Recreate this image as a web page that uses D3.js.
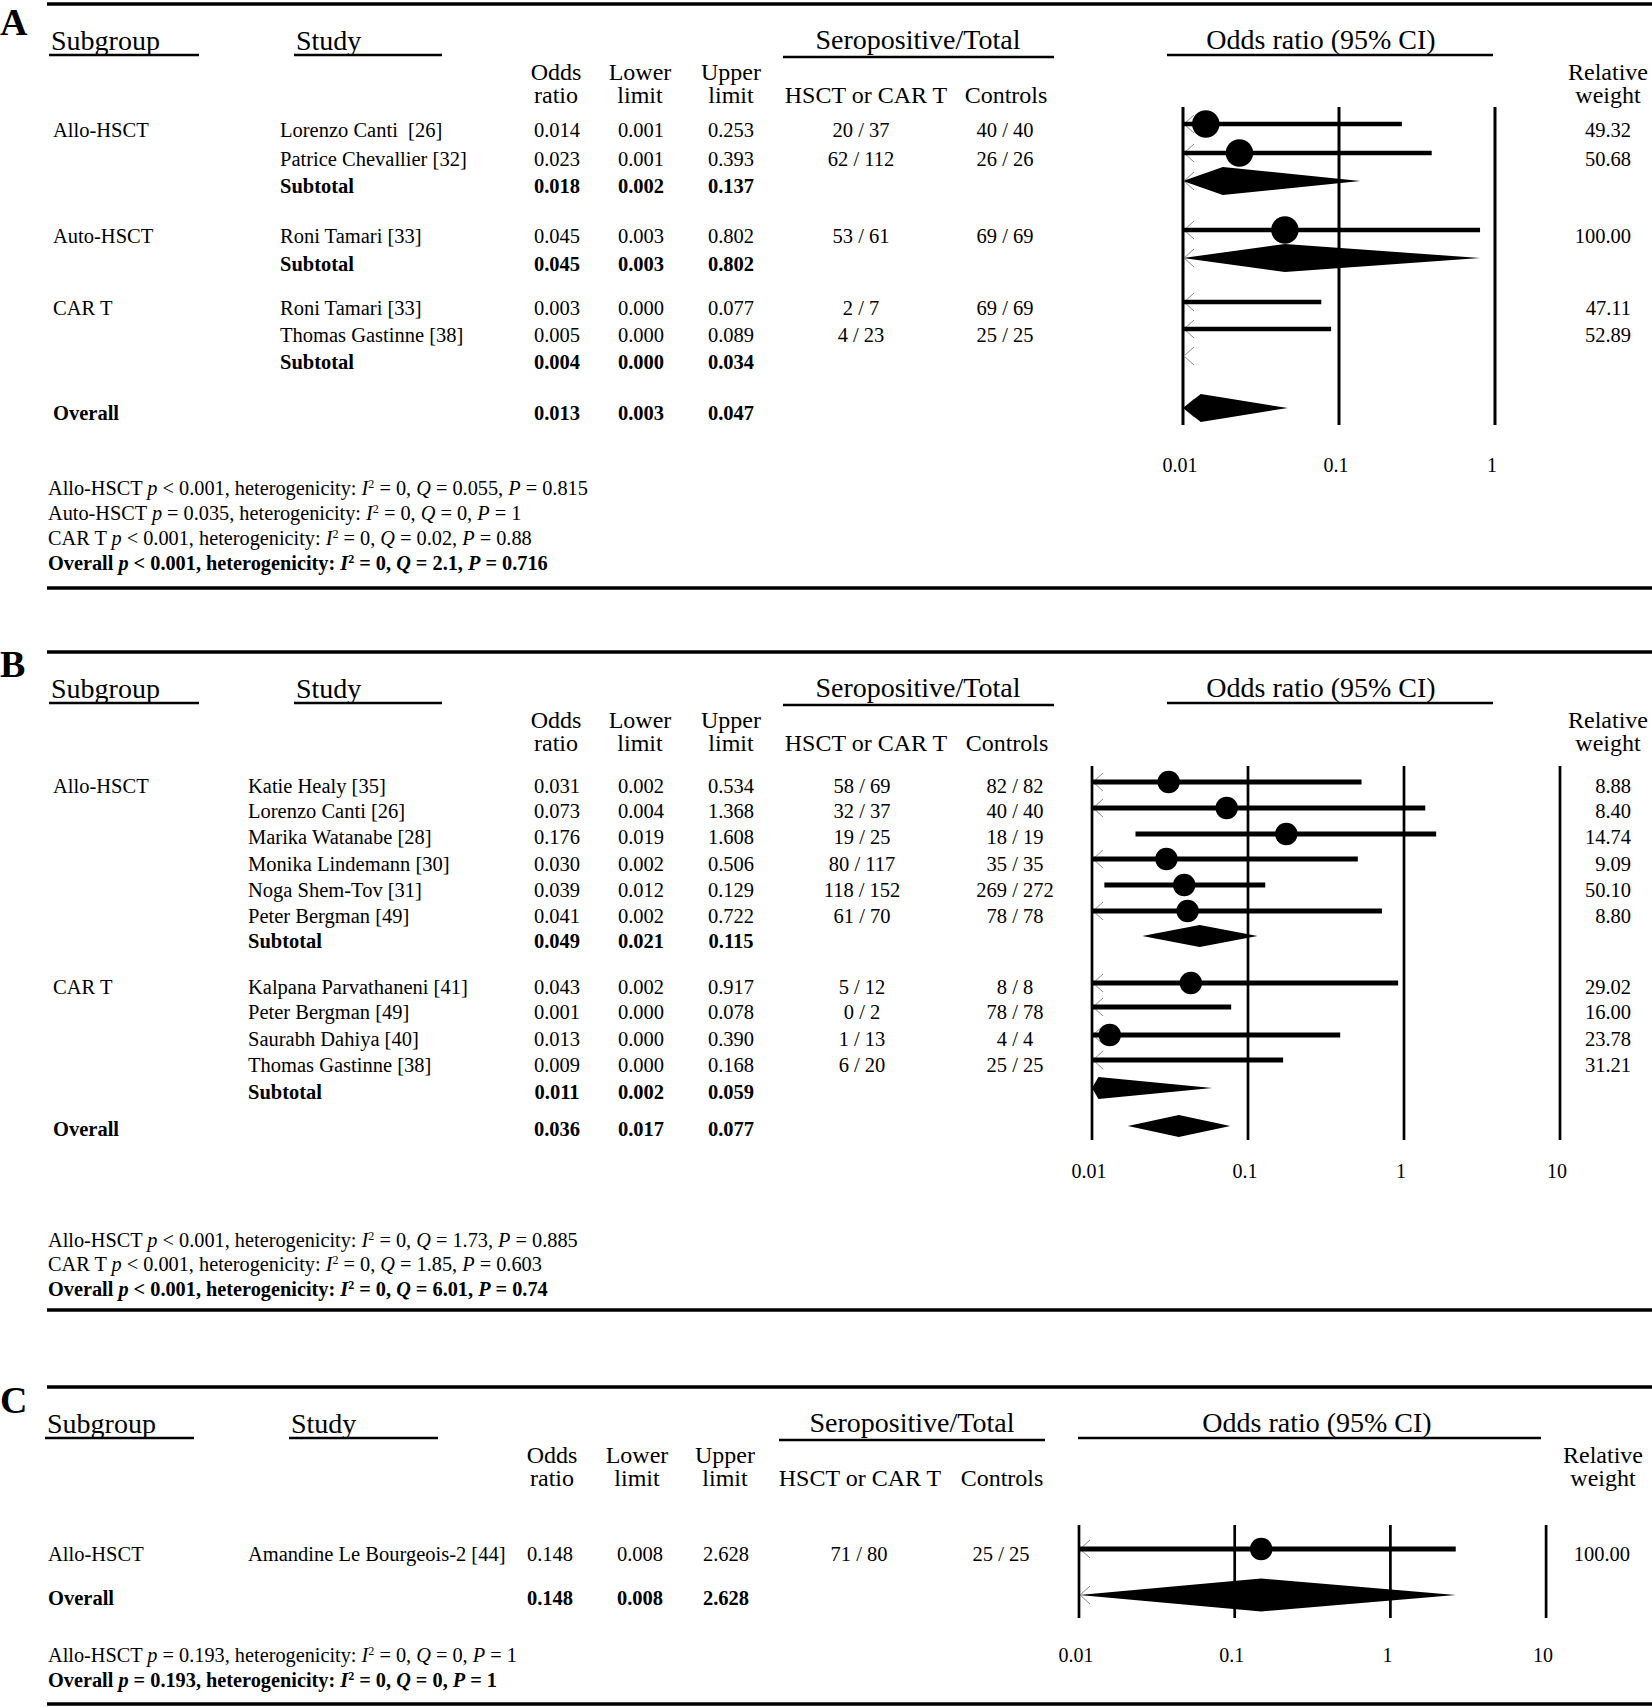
<!DOCTYPE html>
<html><head><meta charset="utf-8">
<script src="https://cdn.jsdelivr.net/npm/d3@7"></script>
<style>
body{margin:0;background:#fff}
svg{display:block}
text{font-family:"Liberation Serif","Times New Roman",serif;fill:#000;white-space:pre}
</style>
</head><body>
<svg id="chart" width="1652" height="1707"></svg>
<script>
// ---------------- DATA ----------------
// Panel A
const subgroupA = ["Allo-HSCT","","","Auto-HSCT","","CAR T","","","Overall"];
const studyA = ["Lorenzo Canti  [26]","Patrice Chevallier [32]","Subtotal","Roni Tamari [33]","Subtotal","Roni Tamari [33]","Thomas Gastinne [38]","Subtotal",""];
const typeA = ["study","study","subtotal","study","subtotal","study","study","subtotal","overall"];
const orA = [0.014,0.023,0.018,0.045,0.045,0.003,0.005,0.004,0.013];
const lowerA = [0.001,0.001,0.002,0.003,0.003,0.000,0.000,0.000,0.003];
const upperA = [0.253,0.393,0.137,0.802,0.802,0.077,0.089,0.034,0.047];
const casesA = ["20 / 37","62 / 112","","53 / 61","","2 / 7","4 / 23","",""];
const controlsA = ["40 / 40","26 / 26","","69 / 69","","69 / 69","25 / 25","",""];
const weightA = [49.32,50.68,null,100.00,null,47.11,52.89,null,null];
const ticksA = [0.01,0.1,1];
const tickLabelsA = ["0.01","0.1","1"];
const footGroupA = ["Allo-HSCT","Auto-HSCT","CAR T","Overall"];
const footPA = ["< 0.001","= 0.035","< 0.001","< 0.001"];
const footI2A = ["0","0","0","0"];
const footQA = ["0.055","0","0.02","2.1"];
const footHetPA = ["0.815","1","0.88","0.716"];

// Panel B
const subgroupB = ["Allo-HSCT","","","","","","","CAR T","","","","","Overall"];
const studyB = ["Katie Healy [35]","Lorenzo Canti [26]","Marika Watanabe [28]","Monika Lindemann [30]","Noga Shem-Tov [31]","Peter Bergman [49]","Subtotal","Kalpana Parvathaneni [41]","Peter Bergman [49]","Saurabh Dahiya [40]","Thomas Gastinne [38]","Subtotal",""];
const typeB = ["study","study","study","study","study","study","subtotal","study","study","study","study","subtotal","overall"];
const orB = [0.031,0.073,0.176,0.030,0.039,0.041,0.049,0.043,0.001,0.013,0.009,0.011,0.036];
const lowerB = [0.002,0.004,0.019,0.002,0.012,0.002,0.021,0.002,0.000,0.000,0.000,0.002,0.017];
const upperB = [0.534,1.368,1.608,0.506,0.129,0.722,0.115,0.917,0.078,0.390,0.168,0.059,0.077];
const casesB = ["58 / 69","32 / 37","19 / 25","80 / 117","118 / 152","61 / 70","","5 / 12","0 / 2","1 / 13","6 / 20","",""];
const controlsB = ["82 / 82","40 / 40","18 / 19","35 / 35","269 / 272","78 / 78","","8 / 8","78 / 78","4 / 4","25 / 25","",""];
const weightB = [8.88,8.40,14.74,9.09,50.10,8.80,null,29.02,16.00,23.78,31.21,null,null];
const ticksB = [0.01,0.1,1,10];
const tickLabelsB = ["0.01","0.1","1","10"];
const footGroupB = ["Allo-HSCT","CAR T","Overall"];
const footPB = ["< 0.001","< 0.001","< 0.001"];
const footI2B = ["0","0","0"];
const footQB = ["1.73","1.85","6.01"];
const footHetPB = ["0.885","0.603","0.74"];

// Panel C
const subgroupC = ["Allo-HSCT","Overall"];
const studyC = ["Amandine Le Bourgeois-2 [44]",""];
const typeC = ["study","overall"];
const orC = [0.148,0.148];
const lowerC = [0.008,0.008];
const upperC = [2.628,2.628];
const casesC = ["71 / 80",""];
const controlsC = ["25 / 25",""];
const weightC = [100.00,null];
const ticksC = [0.01,0.1,1,10];
const tickLabelsC = ["0.01","0.1","1","10"];
const footGroupC = ["Allo-HSCT","Overall"];
const footPC = ["= 0.193","= 0.193"];
const footI2C = ["0","0"];
const footQC = ["0","0"];
const footHetPC = ["1","1"];

// ---------------- LAYOUT ----------------
const svg = d3.select("#chart");
const fmt3 = d3.format(".3f"), fmt2 = d3.format(".2f");

const layouts = {
  A: {dy:0, topRule:4, botRule:588, labelY:35,
      subX:53, studyX:280, orX:557, loX:641, upX:731, caseX:861, ctrlX:1005, wX:1631,
      hSubX:51, hSubU:[49,199], hStudyX:296, hStudyU:[294,442], hSeroX:918, hSeroU:[783,1054],
      hOrX:1321, hOrU:[1167,1493], hOdds:556, hLower:640, hUpper:731, hHsct:866, hCtrl:1006, hRel:1608,
      rowY:[137,166,193,243,271,315,342,369,420],
      plotY:[124,153,181,230,258,302,329,356,408],
      x0:1183, decade:156, vTop:107, vBot:425, tickY:472, r:13.7, dh:14, lw:4.5, vw:3,
      footY:[495,520,545,569.5]},
  B: {dy:648, topRule:652, botRule:1310, labelY:677,
      subX:53, studyX:248, orX:557, loX:641, upX:731, caseX:862, ctrlX:1015, wX:1631,
      hSubX:51, hSubU:[49,199], hStudyX:296, hStudyU:[294,442], hSeroX:918, hSeroU:[783,1054],
      hOrX:1321, hOrU:[1167,1493], hOdds:556, hLower:640, hUpper:731, hHsct:866, hCtrl:1007, hRel:1608,
      rowY:[793,818,844,871,897,923,948,994,1019,1046,1072,1099,1136],
      plotY:[782,808,834,859,885,911,936,983,1007,1035,1060,1088,1126],
      x0:1092, decade:156, vTop:766, vBot:1140, tickY:1178, r:11.2, dh:11, lw:5, vw:2.7,
      footY:[1246.5,1271,1296]},
  C: {dy:1383, topRule:1387, botRule:1704, labelY:1413,
      subX:48, studyX:248, orX:550, loX:640, upX:726, caseX:859, ctrlX:1001, wX:1630,
      hSubX:47, hSubU:[45,194], hStudyX:291, hStudyU:[289,438], hSeroX:912, hSeroU:[779,1045],
      hOrX:1317, hOrU:[1078,1541], hOdds:552, hLower:637, hUpper:725, hHsct:860, hCtrl:1002, hRel:1603,
      rowY:[1561,1605],
      plotY:[1549,1595],
      x0:1079, decade:155.7, vTop:1525, vBot:1618, tickY:1662, r:11.3, dh:16.5, lw:5, vw:2.7,
      footY:[1662,1687]}
};

function txt(g, x, y, s, size, anchor, weight) {
  return g.append("text").attr("x", x).attr("y", y).text(s)
    .style("font-size", size + "px")
    .attr("text-anchor", anchor || "start")
    .style("font-weight", weight || "normal");
}
function hline(g, x1, x2, y, w) {
  g.append("line").attr("x1", x1).attr("x2", x2).attr("y1", y).attr("y2", y)
    .attr("stroke", "#000").attr("stroke-width", w);
}

function footnote(g, x, y, group, p, i2, q, hp, bold) {
  const t = g.append("text").attr("x", x).attr("y", y)
    .style("font-size", "20.3px").style("font-weight", bold ? "bold" : "normal");
  t.append("tspan").text(group + " ");
  t.append("tspan").style("font-style", "italic").text("p");
  t.append("tspan").text(" " + p + ", heterogenicity: ");
  t.append("tspan").style("font-style", "italic").text("I");
  t.append("tspan").attr("dy", -7).style("font-size", "12px").text("2");
  t.append("tspan").attr("dy", 7).text(" = " + i2 + ", ");
  t.append("tspan").style("font-style", "italic").text("Q");
  t.append("tspan").text(" = " + q + ", ");
  t.append("tspan").style("font-style", "italic").text("P");
  t.append("tspan").text(" = " + hp);
}

function drawPanel(label, L, d) {
  const g = svg.append("g");
  const dy = L.dy;
  // rules
  hline(g, 47, 1652, L.topRule, 3.5);
  hline(g, 47, 1652, L.botRule, 3.5);
  txt(g, 0, L.labelY, label, 38, "start", "bold");

  // headers
  txt(g, L.hSubX, 50 + dy, "Subgroup", 28);
  hline(g, L.hSubU[0], L.hSubU[1], 55 + dy, 2.5);
  txt(g, L.hStudyX, 50 + dy, "Study", 28);
  hline(g, L.hStudyU[0], L.hStudyU[1], 55 + dy, 2.5);
  txt(g, L.hSeroX, 49 + dy, "Seropositive/Total", 28, "middle");
  hline(g, L.hSeroU[0], L.hSeroU[1], 57 + dy, 2.5);
  txt(g, L.hOrX, 49 + dy, "Odds ratio (95% CI)", 28, "middle");
  hline(g, L.hOrU[0], L.hOrU[1], 55 + dy, 2.5);
  [[L.hOdds, "Odds", "ratio"], [L.hLower, "Lower", "limit"], [L.hUpper, "Upper", "limit"], [L.hRel, "Relative", "weight"]]
    .forEach(([x, a, b]) => {
      txt(g, x, 80 + dy, a, 24, "middle");
      txt(g, x, 103 + dy, b, 24, "middle");
    });
  txt(g, L.hHsct, 103 + dy, "HSCT or CAR T", 24, "middle");
  txt(g, L.hCtrl, 103 + dy, "Controls", 24, "middle");

  // scales
  const dom = [d.ticks[0], d.ticks[d.ticks.length - 1]];
  const x = d3.scaleLog().domain(dom).range([L.x0, L.x0 + L.decade * Math.log10(dom[1] / dom[0])]);
  const idx = d3.range(d.or.length);
  const yText = d3.scaleOrdinal().domain(idx).range(L.rowY);
  const yPlot = d3.scaleOrdinal().domain(idx).range(L.plotY);

  // vertical reference lines
  d.ticks.forEach((t, i) => {
    g.append("line").attr("x1", x(t)).attr("x2", x(t)).attr("y1", L.vTop).attr("y2", L.vBot)
      .attr("stroke", "#000").attr("stroke-width", L.vw);
    txt(g, x(t) - 3, L.tickY, d.tickLabels[i], 20, "middle");
  });

  // rows
  idx.forEach(i => {
    const bold = d.type[i] !== "study" ? "bold" : "normal";
    const yt = yText(i);
    if (d.subgroup[i]) txt(g, L.subX, yt, d.subgroup[i], 20.5, "start", d.type[i] === "overall" ? "bold" : "normal");
    if (d.study[i]) txt(g, L.studyX, yt, d.study[i], 20.5, "start", bold);
    txt(g, L.orX, yt, fmt3(d.or[i]), 20.5, "middle", bold);
    txt(g, L.loX, yt, fmt3(d.lower[i]), 20.5, "middle", bold);
    txt(g, L.upX, yt, fmt3(d.upper[i]), 20.5, "middle", bold);
    if (d.cases[i]) txt(g, L.caseX, yt, d.cases[i], 20.5, "middle");
    if (d.controls[i]) txt(g, L.ctrlX, yt, d.controls[i], 20.5, "middle");
    if (d.weight[i] != null) txt(g, L.wX, yt, fmt2(d.weight[i]), 20.5, "end");

    const yp = yPlot(i);
    const lo = Math.max(d.lower[i], dom[0]);
    const xl = x(lo), xu = x(Math.min(d.upper[i], dom[1]));
    // chevron for truncated lower limit
    if (d.lower[i] < dom[0]) {
      g.append("path").attr("d", `M${x(dom[0]) + 11},${yp - 9}L${x(dom[0]) + 1},${yp}L${x(dom[0]) + 11},${yp + 9}`)
        .attr("fill", "none").attr("stroke", "#8a8a8a").attr("stroke-width", 1);
    }
    if (d.type[i] === "study") {
      g.append("line").attr("x1", xl).attr("x2", xu).attr("y1", yp).attr("y2", yp)
        .attr("stroke", "#000").attr("stroke-width", L.lw);
      if (d.or[i] >= dom[0]) {
        g.append("circle").attr("cx", x(d.or[i])).attr("cy", yp).attr("r", L.r).attr("fill", "#000");
      }
    } else if (d.or[i] >= dom[0]) {
      const xc = x(d.or[i]);
      g.append("path").attr("d", `M${xl},${yp}L${xc},${yp - L.dh}L${xu},${yp}L${xc},${yp + L.dh}Z`)
        .attr("fill", "#000");
    }
  });

  // footnotes
  d.foot.group.forEach((gname, i) => {
    footnote(g, 48, L.footY[i], gname, d.foot.p[i], d.foot.i2[i], d.foot.q[i], d.foot.hp[i], gname === "Overall");
  });
}

drawPanel("A", layouts.A, {subgroup:subgroupA, study:studyA, type:typeA, or:orA, lower:lowerA, upper:upperA,
  cases:casesA, controls:controlsA, weight:weightA, ticks:ticksA, tickLabels:tickLabelsA,
  foot:{group:footGroupA, p:footPA, i2:footI2A, q:footQA, hp:footHetPA}});
drawPanel("B", layouts.B, {subgroup:subgroupB, study:studyB, type:typeB, or:orB, lower:lowerB, upper:upperB,
  cases:casesB, controls:controlsB, weight:weightB, ticks:ticksB, tickLabels:tickLabelsB,
  foot:{group:footGroupB, p:footPB, i2:footI2B, q:footQB, hp:footHetPB}});
drawPanel("C", layouts.C, {subgroup:subgroupC, study:studyC, type:typeC, or:orC, lower:lowerC, upper:upperC,
  cases:casesC, controls:controlsC, weight:weightC, ticks:ticksC, tickLabels:tickLabelsC,
  foot:{group:footGroupC, p:footPC, i2:footI2C, q:footQC, hp:footHetPC}});
</script>
</body></html>
